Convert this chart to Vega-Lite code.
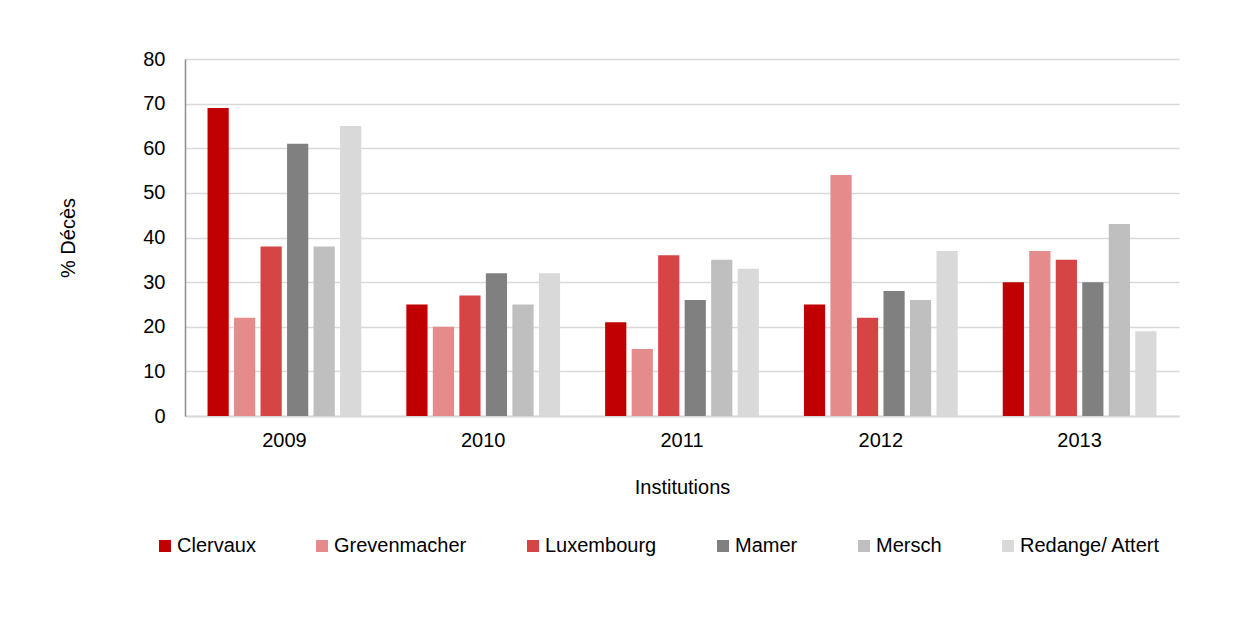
{
  "$schema": "https://vega.github.io/schema/vega-lite/v6.json",
  "width": 994,
  "height": 357,
  "autosize": {"type": "none"},
  "padding": {"left": 185, "top": 59, "right": 62, "bottom": 222},
  "background": "white",
  "config": {
    "font": "Liberation Sans",
    "view": {"stroke": null},
    "axis": {"labelFont": "Liberation Sans", "titleFont": "Liberation Sans", "labelColor": "#000000", "titleColor": "#000000", "titleFontWeight": "normal"}
  },
  "data": {
    "values": [
      {"annee": "2009", "institution": "Clervaux", "deces": 69},
      {"annee": "2009", "institution": "Grevenmacher", "deces": 22},
      {"annee": "2009", "institution": "Luxembourg", "deces": 38},
      {"annee": "2009", "institution": "Mamer", "deces": 61},
      {"annee": "2009", "institution": "Mersch", "deces": 38},
      {"annee": "2009", "institution": "Redange/ Attert", "deces": 65},
      {"annee": "2010", "institution": "Clervaux", "deces": 25},
      {"annee": "2010", "institution": "Grevenmacher", "deces": 20},
      {"annee": "2010", "institution": "Luxembourg", "deces": 27},
      {"annee": "2010", "institution": "Mamer", "deces": 32},
      {"annee": "2010", "institution": "Mersch", "deces": 25},
      {"annee": "2010", "institution": "Redange/ Attert", "deces": 32},
      {"annee": "2011", "institution": "Clervaux", "deces": 21},
      {"annee": "2011", "institution": "Grevenmacher", "deces": 15},
      {"annee": "2011", "institution": "Luxembourg", "deces": 36},
      {"annee": "2011", "institution": "Mamer", "deces": 26},
      {"annee": "2011", "institution": "Mersch", "deces": 35},
      {"annee": "2011", "institution": "Redange/ Attert", "deces": 33},
      {"annee": "2012", "institution": "Clervaux", "deces": 25},
      {"annee": "2012", "institution": "Grevenmacher", "deces": 54},
      {"annee": "2012", "institution": "Luxembourg", "deces": 22},
      {"annee": "2012", "institution": "Mamer", "deces": 28},
      {"annee": "2012", "institution": "Mersch", "deces": 26},
      {"annee": "2012", "institution": "Redange/ Attert", "deces": 37},
      {"annee": "2013", "institution": "Clervaux", "deces": 30},
      {"annee": "2013", "institution": "Grevenmacher", "deces": 37},
      {"annee": "2013", "institution": "Luxembourg", "deces": 35},
      {"annee": "2013", "institution": "Mamer", "deces": 30},
      {"annee": "2013", "institution": "Mersch", "deces": 43},
      {"annee": "2013", "institution": "Redange/ Attert", "deces": 19}
    ]
  },
  "mark": {"type": "bar"},
  "encoding": {
    "x": {
      "field": "annee", "type": "nominal",
      "scale": {"paddingInner": 0.2, "paddingOuter": 0.1},
      "axis": {
        "title": "Institutions", "labelAngle": 0, "labelFontSize": 20, "titleFontSize": 20,
        "ticks": false, "labelPadding": 14, "titlePadding": 27,
        "domainColor": "#d9d9d9", "domainWidth": 2, "grid": false
      }
    },
    "xOffset": {
      "field": "institution", "type": "nominal",
      "scale": {"paddingInner": 0.2, "paddingOuter": 0.1}
    },
    "y": {
      "field": "deces", "type": "quantitative",
      "scale": {"domain": [0, 80]},
      "axis": {
        "title": "% Décès", "values": [0, 10, 20, 30, 40, 50, 60, 70, 80],
        "labelFontSize": 20, "titleFontSize": 20, "ticks": false, "labelPadding": 20,
        "titlePadding": 64, "domainColor": "#8c8c8c", "domainWidth": 1.5,
        "gridColor": "#d9d9d9", "gridWidth": 1.5
      }
    },
    "color": {
      "field": "institution", "type": "nominal",
      "scale": {
        "domain": ["Clervaux", "Grevenmacher", "Luxembourg", "Mamer", "Mersch", "Redange/ Attert"],
        "range": ["#c00000", "#e58b8b", "#d64545", "#808080", "#bfbfbf", "#d9d9d9"]
      },
      "legend": {
        "title": null, "orient": "none", "direction": "horizontal", "columns": 6,
        "legendX": -30, "legendY": 477, "symbolType": "square", "symbolSize": 144,
        "symbolStrokeWidth": 0, "labelFontSize": 20, "labelOffset": 2, "columnPadding": 56,
        "labelFont": "Liberation Sans", "labelColor": "#000000", "labelLimit": 300
      }
    }
  }
}
